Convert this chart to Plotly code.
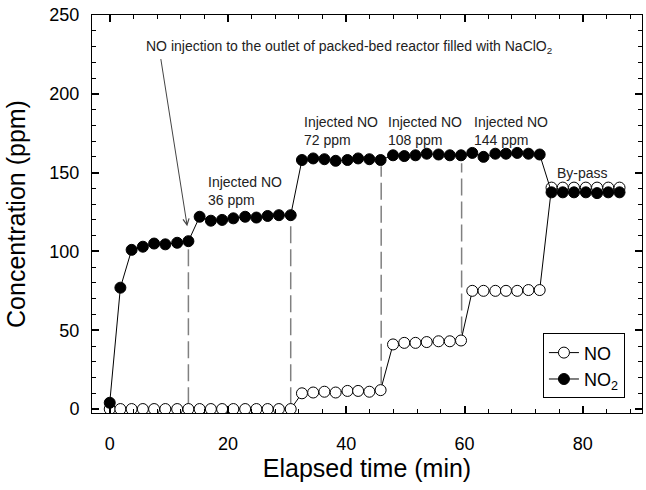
import plotly.graph_objects as go

# ---- data ----
time_min = [0, 1.8, 3.7, 5.6, 7.5, 9.4, 11.4, 13.3,
            15.2, 17.1, 19.0, 20.9, 22.9, 24.8, 26.7, 28.6, 30.6,
            32.5, 34.4, 36.3, 38.2, 40.2, 42.0, 43.9, 45.8,
            47.9, 49.8, 51.7, 53.6, 55.6, 57.5, 59.4,
            61.3, 63.2, 65.2, 67.0, 68.9, 70.8, 72.7,
            74.7, 76.6, 78.5, 80.5, 82.4, 84.3, 86.2]

no_ppm = [0, 0, 0, 0, 0, 0, 0, 0,
          0, 0, 0, 0, 0, 0, 0, 0, 0,
          10, 10.5, 11, 10.5, 11.5, 11.5, 11, 12,
          41, 42, 42, 42.5, 43, 43, 43.5,
          75, 75, 75, 75, 75, 75.5, 75.5,
          140.5, 140.5, 140.5, 140.5, 140.5, 140.5, 140.5]

no2_ppm = [4, 77, 101, 103, 105, 104.5, 105.5, 106.5,
           122, 119.5, 120, 121, 122, 121.5, 122.5, 123, 123,
           158, 159, 158.5, 157.5, 158, 159, 158.5, 158,
           161, 160.5, 161, 162, 161.5, 161, 161,
           162.5, 160, 162, 162, 162.5, 162, 161.5,
           137.5, 137.5, 137.5, 137.5, 137, 137.5, 137.5]

# dashed injection markers
vline_x = [13.3, 30.6, 45.9, 59.5]
vline_bottom = [3, 3, 16, 48]
vline_top = [103, 120, 154, 156]

# text labels
inj_labels = ["Injected NO<br>36 ppm", "Injected NO<br>72 ppm",
              "Injected NO<br>108 ppm", "Injected NO<br>144 ppm", "By-pass"]
inj_x = [16.2, 32.5, 46.7, 61.2, 75.3]
inj_y = [138.2, 176.5, 176.5, 176.5, 150]

top_text = "NO injection to the outlet of packed-bed reactor filled with NaClO<sub>2</sub>"
top_text_x, top_text_y = 5.8, 230
arrow_tail = (8.6, 223)
arrow_head = (13.1, 116)

FONT = "Liberation Sans, Arial, sans-serif"

fig = go.Figure()

for i, xv in enumerate(vline_x):
    fig.add_trace(go.Scatter(
        x=[xv, xv], y=[vline_bottom[i], vline_top[i]], mode="lines",
        line=dict(color="#808080", width=1.5, dash="17px,6px"),
        showlegend=False, hoverinfo="skip"))

fig.add_trace(go.Scatter(
    x=time_min, y=no_ppm, mode="lines+markers", name="NO",
    line=dict(color="black", width=1),
    marker=dict(symbol="circle", size=11, color="white",
                line=dict(color="black", width=1))))

fig.add_trace(go.Scatter(
    x=time_min, y=no2_ppm, mode="lines+markers", name="NO<sub>2</sub>",
    line=dict(color="black", width=1),
    marker=dict(symbol="circle", size=11, color="black",
                line=dict(color="black", width=1))))

for t, xv, yv in zip(inj_labels, inj_x, inj_y):
    fig.add_annotation(x=xv, y=yv, text=t, showarrow=False, xanchor="left",
                       yanchor="middle", align="left",
                       font=dict(family=FONT, size=14, color="#222"))

fig.add_annotation(x=top_text_x, y=top_text_y, text=top_text, showarrow=False,
                   xanchor="left", yanchor="middle",
                   font=dict(family=FONT, size=14, color="#222"))

fig.add_annotation(x=arrow_head[0], y=arrow_head[1], ax=arrow_tail[0], ay=arrow_tail[1],
                   axref="x", ayref="y", xref="x", yref="y", text="",
                   showarrow=True, arrowhead=5, arrowsize=1.2, arrowwidth=1,
                   arrowcolor="#444")

axis_common = dict(showline=True, linecolor="black", linewidth=1, mirror="allticks",
                   ticks="inside", ticklen=7, tickwidth=1.5, tickcolor="black",
                   showgrid=False, zeroline=False,
                   tickfont=dict(family=FONT, size=18, color="black"))

fig.update_xaxes(range=[-3, 90], dtick=20, tick0=0,
                 minor=dict(dtick=4, tick0=0, ticks="inside", ticklen=4, tickwidth=1,
                            tickcolor="black"),
                 ticklabelstandoff=14,
                 title=dict(text="Elapsed time (min)", standoff=6,
                            font=dict(family=FONT, size=25, color="black")),
                 **axis_common)
fig.update_yaxes(range=[-2.5, 250], dtick=50, tick0=0,
                 minor=dict(dtick=10, tick0=0, ticks="inside", ticklen=4, tickwidth=1,
                            tickcolor="black"),
                 ticklabelstandoff=8,
                 title=dict(text="Concentration (ppm)", standoff=16,
                            font=dict(family=FONT, size=25, color="black")),
                 **axis_common)

fig.update_layout(
    width=646, height=490,
    margin=dict(l=92, r=4, t=15, b=77),
    plot_bgcolor="white", paper_bgcolor="white",
    legend=dict(x=0.969, y=0.2, xanchor="right", yanchor="top",
                bordercolor="black", borderwidth=1, bgcolor="white",
                font=dict(family=FONT, size=18, color="black"),
                tracegroupgap=0),
    showlegend=True,
)

fig.write_html("out.html")
